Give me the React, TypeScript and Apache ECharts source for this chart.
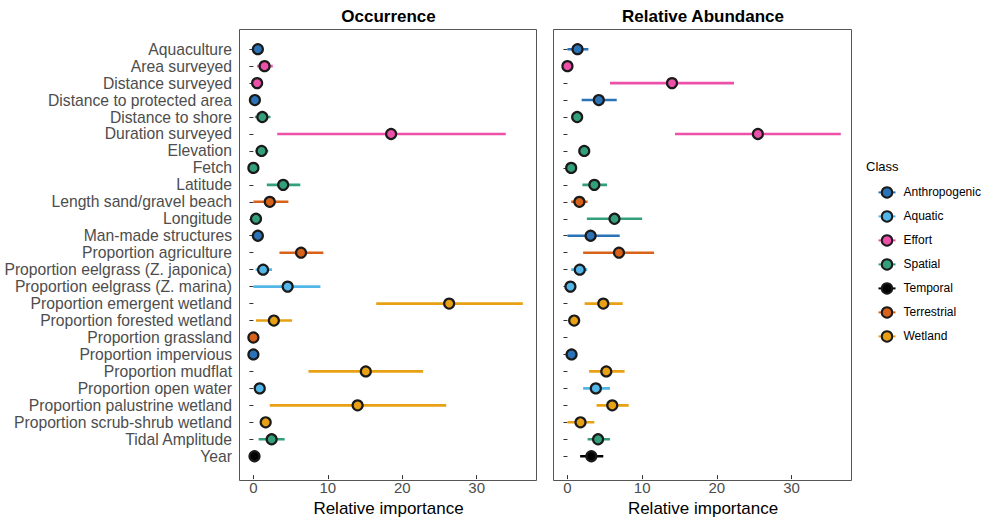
import React, { useEffect, useRef } from 'react';
import * as echarts from 'echarts';

const variables = [
  'Aquaculture',
  'Area surveyed',
  'Distance surveyed',
  'Distance to protected area',
  'Distance to shore',
  'Duration surveyed',
  'Elevation',
  'Fetch',
  'Latitude',
  'Length sand/gravel beach',
  'Longitude',
  'Man-made structures',
  'Proportion agriculture',
  'Proportion eelgrass (Z. japonica)',
  'Proportion eelgrass (Z. marina)',
  'Proportion emergent wetland',
  'Proportion forested wetland',
  'Proportion grassland',
  'Proportion impervious',
  'Proportion mudflat',
  'Proportion open water',
  'Proportion palustrine wetland',
  'Proportion scrub-shrub wetland',
  'Tidal Amplitude',
  'Year',
];

const variableClass = [
  'Anthropogenic', 'Effort', 'Effort', 'Anthropogenic', 'Spatial', 'Effort', 'Spatial', 'Spatial',
  'Spatial', 'Terrestrial', 'Spatial', 'Anthropogenic', 'Terrestrial', 'Aquatic', 'Aquatic',
  'Wetland', 'Wetland', 'Terrestrial', 'Anthropogenic', 'Wetland', 'Aquatic', 'Wetland', 'Wetland',
  'Spatial', 'Temporal',
];

const classes = ['Anthropogenic', 'Aquatic', 'Effort', 'Spatial', 'Temporal', 'Terrestrial', 'Wetland'];
const classColors = ['#2B73B6', '#52B6E8', '#EC50A8', '#33A07A', '#000000', '#D9621A', '#E8A115'];

const panelTitles = ['Occurrence', 'Relative Abundance'];
const xTicks = [0, 10, 20, 30];

// Occurrence
const occMean = [0.6, 1.5, 0.5, 0.2, 1.2, 18.5, 1.1, 0.0, 4.0, 2.2, 0.35, 0.6, 6.4, 1.3, 4.6, 26.3, 2.75, 0.0, 0.0, 15.1, 0.85, 14.0, 1.65, 2.45, 0.15];
const occLow = [0.3, 0.5, 0.3, 0.0, 0.2, 3.2, 0.3, 0.0, 1.8, 0.0, 0.1, 0.3, 3.5, 0.3, 0.0, 16.5, 0.35, 0.0, 0.0, 7.4, 0.5, 2.2, 1.2, 0.7, 0.0];
const occHigh = [0.9, 2.6, 0.8, 0.5, 2.3, 33.9, 2.0, 0.3, 6.3, 4.7, 0.7, 0.9, 9.4, 2.5, 9.0, 36.2, 5.2, 0.3, 0.3, 22.8, 1.2, 25.9, 2.1, 4.2, 0.4];

// Relative Abundance
const abdMean = [1.35, 0.0, 14.0, 4.2, 1.3, 25.5, 2.25, 0.5, 3.6, 1.6, 6.3, 3.1, 6.9, 1.65, 0.4, 4.8, 0.9, null, 0.55, 5.2, 3.8, 6.0, 1.75, 4.1, 3.2];
const abdLow = [0.0, 0.0, 5.7, 1.9, 0.9, 14.4, 1.8, 0.2, 2.0, 0.5, 2.6, 0.0, 2.1, 0.5, 0.1, 2.3, 0.5, null, 0.2, 2.9, 2.1, 3.9, 0.0, 2.7, 1.7];
const abdHigh = [2.8, 0.3, 22.3, 6.6, 1.8, 36.6, 2.7, 0.8, 5.3, 2.7, 10.0, 7.0, 11.6, 2.65, 0.7, 7.4, 1.3, null, 0.9, 7.65, 5.7, 8.2, 3.6, 5.7, 4.8];

const FONT = '"Liberation Sans", Arial, Helvetica, sans-serif';

const panels = [
  { mean: occMean, low: occLow, high: occHigh, left: 240, width: 297 },
  { mean: abdMean, low: abdLow, high: abdHigh, left: 554, width: 298 },
];

const PANEL_TOP = 29;
const PANEL_BOTTOM = 480;
const GRID_TOP = 40.7;
const GRID_BOTTOM = 469.6;

export default function App() {
  const ref = useRef<HTMLDivElement>(null);

  useEffect(() => {
    if (!ref.current) return;
    const chart = echarts.init(ref.current, null, { renderer: 'svg' });

    const grids = panels.map((p) => ({
      left: p.left,
      top: GRID_TOP,
      width: p.width,
      height: GRID_BOTTOM - GRID_TOP,
      containLabel: false,
    }));

    const xAxes = panels.map((p, pi) => ({
      type: 'value',
      gridIndex: pi,
      min: -1.8,
      max: 38.1,
      offset: PANEL_BOTTOM - GRID_BOTTOM,
      name: 'Relative importance',
      nameLocation: 'middle',
      nameGap: 22,
      nameTextStyle: { fontFamily: FONT, fontSize: 17, color: '#000' },
      axisLine: { show: false },
      splitLine: { show: false },
      axisTick: { show: true, length: 4, customValues: xTicks, lineStyle: { color: '#333', width: 1 } },
      axisLabel: { customValues: xTicks, fontFamily: FONT, fontSize: 15, color: '#4d4d4d', margin: 5 },
    }));

    const yAxes = panels.map((p, pi) => ({
      type: 'category',
      gridIndex: pi,
      data: variables,
      inverse: true,
      boundaryGap: true,
      axisLine: { show: false },
      splitLine: { show: false },
      axisTick: { show: true, alignWithLabel: true, length: 4, lineStyle: { color: '#333', width: 1 } },
      axisLabel: {
        show: pi === 0,
        interval: 0,
        fontFamily: FONT,
        fontSize: 15.7,
        color: '#4d4d4d',
        margin: 8,
      },
    }));

    const series: any[] = [];
    panels.forEach((p, pi) => {
      classes.forEach((c, ci) => {
        const data: any[] = [];
        variables.forEach((v, i) => {
          if (variableClass[i] !== c) return;
          if (p.mean[i] === null || p.mean[i] === undefined) return;
          data.push({ value: [p.low[i], v], symbol: 'none' });
          data.push({ value: [p.mean[i], v] });
          data.push({ value: [p.high[i], v], symbol: 'none' });
          data.push('-');
        });
        series.push({
          type: 'line',
          name: c,
          xAxisIndex: pi,
          yAxisIndex: pi,
          data,
          symbol: 'circle',
          symbolSize: 10,
          showSymbol: true,
          showAllSymbol: true,
          connectNulls: false,
          silent: true,
          lineStyle: { color: classColors[ci], width: 2.6 },
          itemStyle: { color: classColors[ci], borderColor: '#1a1a1a', borderWidth: 2.2 },
          emphasis: { disabled: true },
        });
      });
    });

    const graphics: any[] = [];
    panels.forEach((p, pi) => {
      graphics.push({
        type: 'rect',
        shape: { x: p.left - 0.5, y: PANEL_TOP + 0.5, width: p.width, height: PANEL_BOTTOM - PANEL_TOP },
        style: { fill: 'none', stroke: '#555', lineWidth: 1 },
        z: 1,
      });
      graphics.push({
        type: 'text',
        x: p.left + p.width / 2,
        y: 16.7,
        style: {
          text: panelTitles[pi],
          fontFamily: FONT,
          fontSize: 17,
          fontWeight: 'bold',
          fill: '#000',
          align: 'center',
          verticalAlign: 'middle',
        },
      });
    });
    graphics.push({
      type: 'text',
      x: 866,
      y: 166,
      style: {
        text: 'Class',
        fontFamily: FONT,
        fontSize: 13,
        fill: '#000',
        align: 'left',
        verticalAlign: 'middle',
      },
    });

    chart.setOption({
      animation: false,
      backgroundColor: '#fff',
      grid: grids,
      xAxis: xAxes,
      yAxis: yAxes,
      legend: {
        data: classes,
        orient: 'vertical',
        left: 872.5,
        top: 181.2,
        padding: 5,
        itemWidth: 17,
        itemHeight: 13,
        itemGap: 11.6,
        selectedMode: false,
        textStyle: { fontFamily: FONT, fontSize: 12, color: '#000', padding: [0, 0, 0, 3] },
        itemStyle: { borderColor: '#1a1a1a', borderWidth: 2 },
      },
      graphic: graphics,
      series,
    });

    return () => {
      chart.dispose();
    };
  }, []);

  return (
    <div
      ref={ref}
      style={{ position: 'fixed', left: 0, top: 0, width: 987, height: 522, background: '#fff' }}
    />
  );
}
